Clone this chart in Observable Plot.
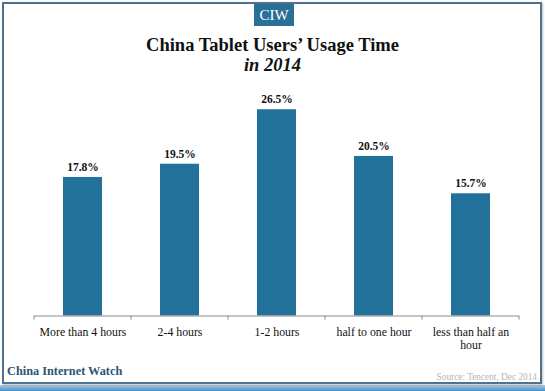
<!DOCTYPE html>
<html>
<head>
<meta charset="utf-8">
<script src="https://cdn.jsdelivr.net/npm/d3@7"></script>
<script src="https://cdn.jsdelivr.net/npm/@observablehq/plot@0.6"></script>
<style>
  html, body { margin: 0; padding: 0; background: #ffffff; }
  #wrap { position: relative; width: 545px; height: 391px; overflow: hidden; background: #fff; }
  #frame { position: absolute; left: 2px; top: 2px; width: 536px; height: 378px; border: 2px solid #4d7391; box-shadow: 1px 1px 2px rgba(0,0,0,0.25); }
  #strip { position: absolute; left: 0; top: 385px; width: 545px; height: 6px; background: linear-gradient(#a9cde6, #4a90c4); }
  #logo { position: absolute; left: 254px; top: 4px; width: 40px; height: 22px; background: #2a6f96; color: #fff; font: 15px "Liberation Serif", serif; text-align: center; line-height: 23px; }
  .title { position: absolute; left: 0; width: 545px; text-align: center; font-family: "Liberation Serif", serif; font-weight: bold; font-size: 18.5px; line-height: 14px; color: #111; }
  #t1 { top: 38px; }
  #t2 { top: 58px; font-style: italic; }
  #brand { position: absolute; left: 7px; top: 364px; font: bold 12.3px "Liberation Serif", serif; color: #2b5672; }
  #source { position: absolute; right: 8px; top: 372px; font: 9.3px "Liberation Serif", serif; color: #b4b4b4; }
  #chart { position: absolute; left: 0; top: 0; }
  #chart svg text { font-family: "Liberation Serif", "Times New Roman", serif !important; }
</style>
</head>
<body>
<div id="wrap">
  <div id="strip"></div>
  <div id="frame"></div>
  <div id="chart"></div>
  <div id="logo">CIW</div>
  <div class="title" id="t1">China Tablet Users’ Usage Time</div>
  <div class="title" id="t2">in 2014</div>
  <div id="brand">China Internet Watch</div>
  <div id="source">Source: Tencent, Dec 2014</div>
</div>
<script>
const categories = ["More than 4 hours", "2-4 hours", "1-2 hours", "half to one hour", "less than half an hour"];
const values = [17.8, 19.5, 26.5, 20.5, 15.7];
const tickLabels = ["More than 4 hours", "2-4 hours", "1-2 hours", "half to one hour", "less than half an\nhour"];

const data = categories.map((c, i) => ({category: c, value: values[i], label: tickLabels[i]}));
const labelOf = new Map(data.map(d => [d.category, d.label]));

// boundary ticks between categories, computed from the band scale
const boundaryTicks = (index, scales, values, dimensions) => {
  const x = scales.scales.x;
  const step = x.step;
  const y0 = scales.y(0);
  const g = d3.create("svg:g");
  const edges = categories.map(c => scales.x(c) + x.bandwidth / 2 - step / 2);
  edges.push(scales.x(categories[categories.length - 1]) + x.bandwidth / 2 + step / 2);
  for (const e of edges) {
    g.append("line").attr("x1", e).attr("x2", e).attr("y1", y0).attr("y2", y0 + 4)
      .attr("stroke", "#8a8a8a").attr("stroke-width", 1);
  }
  return g.node();
};

const chart = Plot.plot({
  width: 545,
  height: 391,
  marginLeft: 34,
  marginRight: 26,
  marginTop: 82,
  marginBottom: 75.5,
  style: {background: "transparent"},
  x: {domain: categories, paddingInner: 0.6, paddingOuter: 0.3, label: null},
  y: {domain: [0, 30], axis: null},
  marks: [
    Plot.barY(data, {x: "category", y: "value", fill: "#21719b"}),
    Plot.ruleY([0], {stroke: "#8a8a8a", strokeWidth: 1}),
    boundaryTicks,
    Plot.text(data, {x: "category", y: "value", text: d => d.value.toFixed(1) + "%", dy: -10, fontWeight: "bold", fontSize: 11.5, fill: "#111"}),
    Plot.axisX({tickSize: 0, tickPadding: 11, fontSize: 11.8, lineHeight: 1.1, tickFormat: d => labelOf.get(d), fill: "#111", label: null})
  ]
});
document.getElementById("chart").appendChild(chart);
</script>
</body>
</html>
